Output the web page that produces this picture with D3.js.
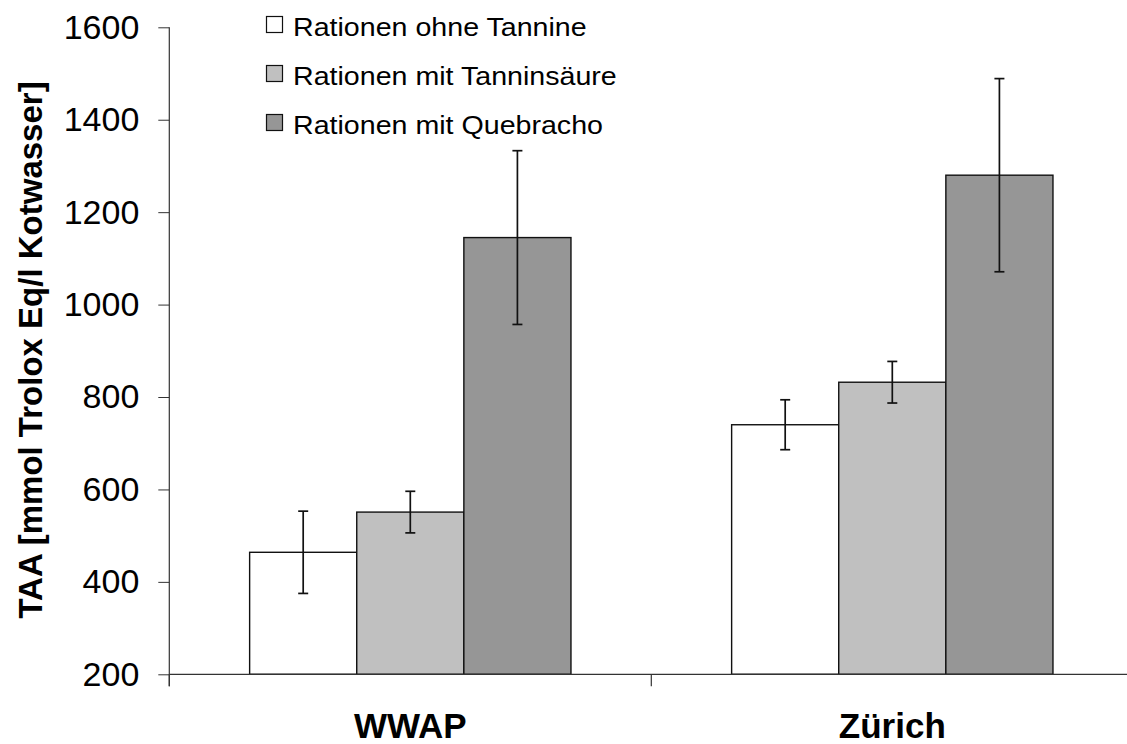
<!DOCTYPE html>
<html>
<head>
<meta charset="utf-8">
<script src="https://cdn.jsdelivr.net/npm/d3@7"></script>
<style>
  html, body { margin: 0; padding: 0; background: #fff; }
  svg { display: block; font-family: "Liberation Sans", Arial, sans-serif; }
</style>
</head>
<body>
<svg id="chart" width="1127" height="744"></svg>
<script>
// Categories (sites) and feeding series
const categories = ["WWAP", "Zürich"];
const seriesNames = ["Rationen ohne Tannine", "Rationen mit Tanninsäure", "Rationen mit Quebracho"];
const seriesColors = ["#ffffff", "#c0c0c0", "#969696"];

// Mean TAA per series, one value per category
const meanOhne = [464, 740];
const meanTanninsaeure = [551, 832];
const meanQuebracho = [1145, 1280];

// Error (± deviation) per series, one value per category
const errOhne = [89, 54];
const errTanninsaeure = [45, 45];
const errQuebracho = [188, 209];

const yTicks = [200, 400, 600, 800, 1000, 1200, 1400, 1600];
const yTitle = "TAA [mmol Trolox Eq/l Kotwasser]";

const means = [meanOhne, meanTanninsaeure, meanQuebracho];
const errs = [errOhne, errTanninsaeure, errQuebracho];

const rows = [];
categories.forEach((c, ci) => {
  seriesNames.forEach((s, si) => {
    rows.push({ cat: c, series: s, si, value: means[si][ci], err: errs[si][ci] });
  });
});

const svg = d3.select("#chart");
const plot = { left: 169.3, right: 1133.3, top: 27.3, bottom: 674.3 };

const y = d3.scaleLinear().domain([200, 1600]).range([plot.bottom, plot.top]);
const x = d3.scaleBand().domain(categories).range([plot.left, plot.right]).paddingInner(0).paddingOuter(0);
const xs = d3.scaleBand().domain(seriesNames).range([0, x.bandwidth()]).paddingInner(0).paddingOuter(0.75);

const axisColor = "#333";

// Bars
svg.append("g").selectAll("rect").data(rows).join("rect")
  .attr("x", d => x(d.cat) + xs(d.series))
  .attr("y", d => y(d.value))
  .attr("width", xs.bandwidth())
  .attr("height", d => y(200) - y(d.value))
  .attr("fill", d => seriesColors[d.si])
  .attr("stroke", "#111")
  .attr("stroke-width", 1.4);

// Error bars
const eb = svg.append("g").attr("stroke", "#111").attr("stroke-width", 1.7);
rows.forEach(d => {
  const cx = x(d.cat) + xs(d.series) + xs.bandwidth() / 2;
  const y1 = y(d.value + d.err), y0 = y(d.value - d.err);
  eb.append("line").attr("x1", cx).attr("x2", cx).attr("y1", y1).attr("y2", y0);
  eb.append("line").attr("x1", cx - 5).attr("x2", cx + 5).attr("y1", y1).attr("y2", y1);
  eb.append("line").attr("x1", cx - 5).attr("x2", cx + 5).attr("y1", y0).attr("y2", y0);
});

// Y axis
const yAxis = svg.append("g")
  .attr("transform", `translate(${plot.left},0)`)
  .call(d3.axisLeft(y).tickValues(yTicks).tickSize(11).tickPadding(19).tickFormat(d3.format("d")));
yAxis.select(".domain").remove();
yAxis.selectAll(".tick line").attr("stroke", axisColor);
yAxis.selectAll(".tick text")
  .attr("font-family", "Liberation Sans, Arial, sans-serif")
  .attr("font-size", 34).attr("fill", "#000");
svg.append("line")
  .attr("x1", plot.left).attr("x2", plot.left)
  .attr("y1", plot.top).attr("y2", plot.bottom + 12)
  .attr("stroke", axisColor).attr("stroke-width", 1.2);

// X axis line and category boundary ticks
svg.append("line")
  .attr("x1", plot.left).attr("x2", plot.right)
  .attr("y1", plot.bottom).attr("y2", plot.bottom)
  .attr("stroke", axisColor).attr("stroke-width", 1.2);
const boundaries = categories.map(c => x(c)).concat([x(categories[categories.length - 1]) + x.bandwidth()]);
svg.append("g").selectAll("line").data(boundaries).join("line")
  .attr("x1", d => d).attr("x2", d => d)
  .attr("y1", plot.bottom).attr("y2", plot.bottom + 12)
  .attr("stroke", axisColor).attr("stroke-width", 1.2);

// Category labels
svg.append("g").selectAll("text").data(categories).join("text")
  .attr("x", d => x(d) + x.bandwidth() / 2)
  .attr("y", 738)
  .attr("text-anchor", "middle")
  .attr("font-weight", "bold")
  .attr("font-size", 35)
  .text(d => d);

// Y axis title
svg.append("text")
  .attr("transform", "translate(42,350) rotate(-90)")
  .attr("text-anchor", "middle")
  .attr("font-weight", "bold")
  .attr("font-size", 33)
  .text(yTitle);

// Legend
const legend = svg.append("g");
seriesNames.forEach((s, i) => {
  const g = legend.append("g").attr("transform", `translate(266,${16 + i * 49})`);
  g.append("rect").attr("x", 0.5).attr("y", 0.5).attr("width", 16).attr("height", 16)
    .attr("fill", seriesColors[i]).attr("stroke", "#111").attr("stroke-width", 1.2);
  g.append("text")
    .attr("transform", "translate(27,19.5) scale(1.1,1)")
    .attr("font-size", 26)
    .text(s);
});
</script>
</body>
</html>
